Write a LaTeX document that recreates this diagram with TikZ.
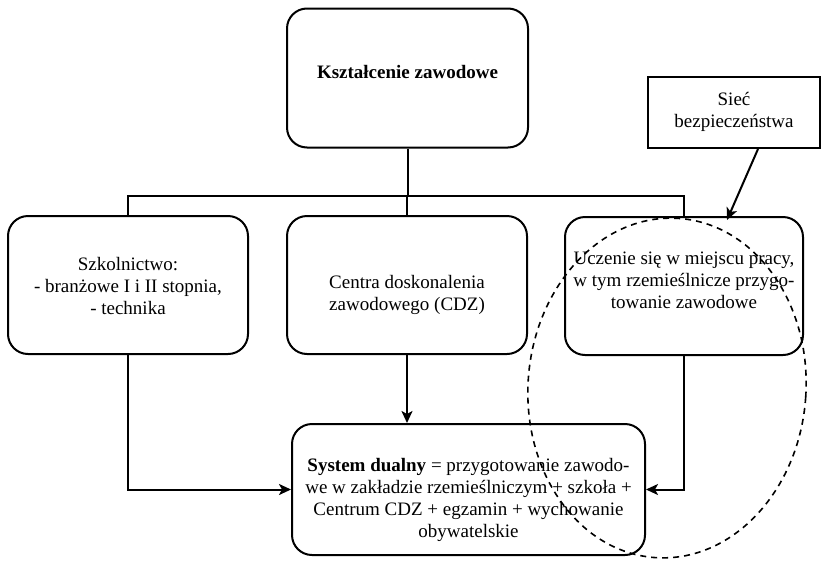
\documentclass[tikz,border=0pt]{standalone}
\usepackage{fontspec}
\setmainfont{Liberation Serif}
\usetikzlibrary{arrows.meta}
\begin{document}
\begin{tikzpicture}[x=1pt,y=-1pt,line width=2pt,
  box/.style={draw,rounded corners=20pt,inner sep=0pt},
  sqbox/.style={draw,inner sep=0pt},
  txt/.style={align=center,inner sep=0pt,font=\fontsize{19}{22}\selectfont},
  arr/.style={-{Stealth[length=12pt,width=11pt,inset=3pt]}}]
\useasboundingbox (0,0) rectangle (824,560);
% boxes
\node[box,minimum width=241pt,minimum height=139pt] (top) at (407.5,78) {};
\node[box,minimum width=240pt,minimum height=138pt] (left) at (128,285) {};
\node[box,minimum width=240pt,minimum height=138pt] (mid) at (407,285) {};
\node[box,minimum width=238pt,minimum height=138pt] (right) at (684,286) {};
\node[sqbox,minimum width=172pt,minimum height=71pt] (siec) at (734,112.5) {};
\node[box,minimum width=353pt,minimum height=131pt] (bot) at (468.5,489.5) {};
% texts
\node[txt] (topT) at (407.5,72) {\textbf{Kształcenie zawodowe}};
\node[txt] (leftT) at (128,285.5) {Szkolnictwo:\\- branżowe I i II stopnia,\\- technika};
\node[txt] (midT) at (407,295) {Centra doskonalenia\\zawodowego (CDZ)};
\node[txt] (rightT) at (684,280) {Uczenie się w miejscu pracy,\\w tym rzemieślnicze przygo-\\towanie zawodowe};
\node[txt] (siecT) at (734,111.5) {Sieć\\bezpieczeństwa};
\node[txt] (botT) at (468.5,500) {\textbf{System dualny} = przygotowanie zawodo-\\we w zakładzie rzemieślniczym + szkoła +\\Centrum CDZ + egzamin + wychowanie\\obywatelskie};
% connectors
\coordinate (bus) at (407.5,196);
\draw (top.south) -- (bus);
\draw (left.north) |- (bus) -| (right.north);
\draw (mid.north) -- (mid.north |- bus);
\draw[arr] (mid.south) -- (mid.south |- bot.north);
\draw[arr] (left.south) |- (bot.west);
\draw[arr] (right.south) |- (bot.east);
\draw[arr] ([xshift=24pt]siec.south) -- ([xshift=43pt,yshift=-4pt]right.north);
% dashed ellipse
\draw[line width=1.6pt,dash pattern=on 6pt off 5pt,rotate around={-4:(667,388)}] (667,388) ellipse [x radius=139pt,y radius=170pt];
\end{tikzpicture}
\end{document}
